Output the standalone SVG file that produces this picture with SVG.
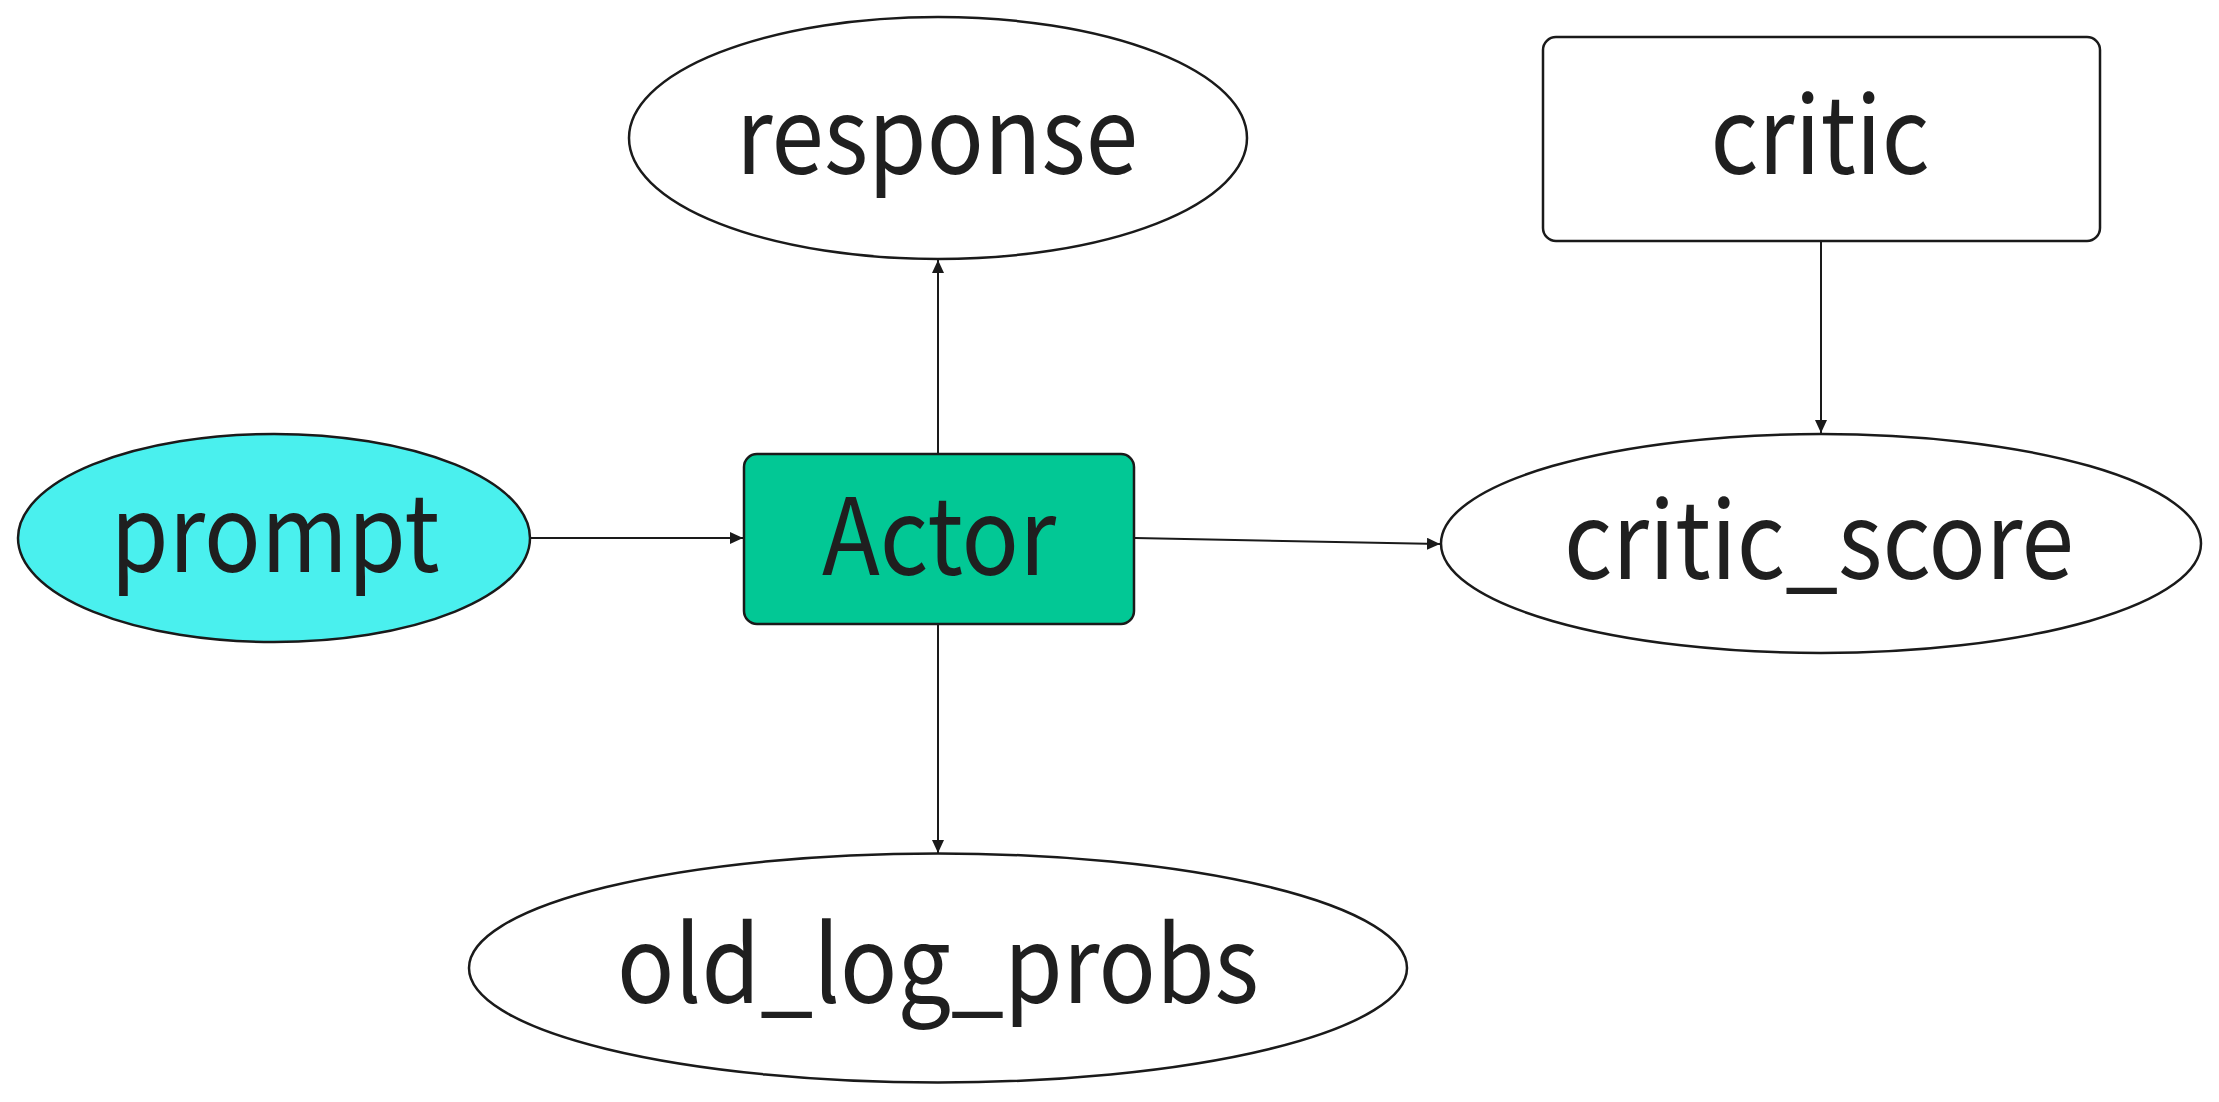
<svg xmlns="http://www.w3.org/2000/svg" width="2219" height="1102" viewBox="0 0 2219 1102">
<style>
.shape{stroke:#1a1a1a;stroke-width:2.5}
.lbl{font-family:"Noto Sans CJK SC","Source Han Sans SC","Noto Sans",sans-serif;font-size:106px;fill:#1f1f1f;text-anchor:middle}
.edge{stroke:#1a1a1a;stroke-width:2;fill:none;marker-end:url(#arr)}
</style>
<defs>
<marker id="arr" markerUnits="userSpaceOnUse" markerWidth="14" markerHeight="12" refX="13" refY="6" orient="auto">
<path d="M0,0 L13,6 L0,12 Z" fill="#1a1a1a"/>
</marker>
</defs>
<rect width="2219" height="1102" fill="#ffffff"/>
<g id="connectors">
<line class="edge" x1="531" y1="538" x2="743" y2="538"/>
<line class="edge" x1="938" y1="453" x2="938" y2="260"/>
<line class="edge" x1="938" y1="625" x2="938" y2="853"/>
<line class="edge" x1="1135" y1="538" x2="1440" y2="544"/>
<line class="edge" x1="1821" y1="242" x2="1821" y2="433"/>
</g>
<g id="prompt">
<ellipse class="shape" cx="274" cy="538" rx="256" ry="104" fill="#4af0ee"/>
<text class="lbl" x="275" y="572" textLength="329" lengthAdjust="spacingAndGlyphs">prompt</text>
</g>
<g id="actor">
<rect class="shape" x="744" y="454" width="390" height="170" rx="13" fill="#02c895"/>
<text class="lbl" x="939" y="575" textLength="234" lengthAdjust="spacingAndGlyphs">Actor</text>
</g>
<g id="response">
<ellipse class="shape" cx="938" cy="138" rx="309" ry="121" fill="#ffffff"/>
<text class="lbl" x="937" y="174" textLength="402" lengthAdjust="spacingAndGlyphs">response</text>
</g>
<g id="critic">
<rect class="shape" x="1543" y="37" width="557" height="204" rx="13" fill="#ffffff"/>
<text class="lbl" x="1820" y="174" textLength="219" lengthAdjust="spacingAndGlyphs">critic</text>
</g>
<g id="critic_score">
<ellipse class="shape" cx="1821" cy="543.5" rx="380" ry="109.5" fill="#ffffff"/>
<text class="lbl" x="1819" y="579" textLength="510" lengthAdjust="spacingAndGlyphs">critic_score</text>
</g>
<g id="old_log_probs">
<ellipse class="shape" cx="938" cy="968" rx="469" ry="114.5" fill="#ffffff"/>
<text class="lbl" x="938" y="1003" textLength="642" lengthAdjust="spacingAndGlyphs">old_log_probs</text>
</g>
</svg>
